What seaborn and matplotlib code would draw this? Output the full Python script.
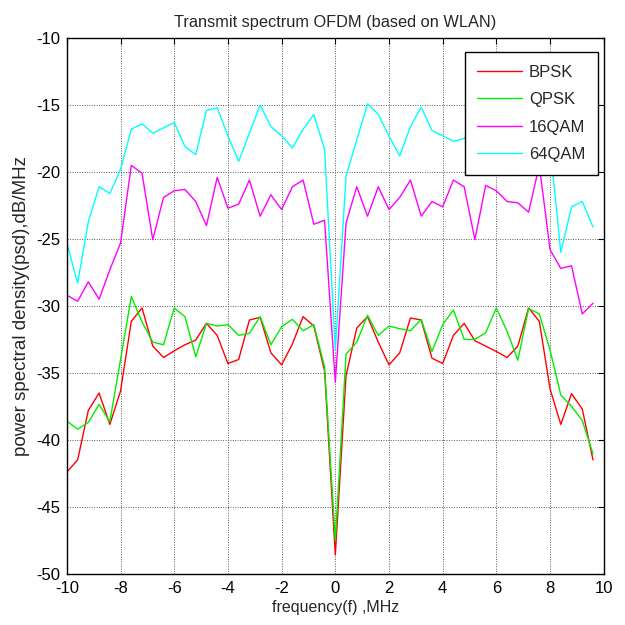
import pandas as pd
import matplotlib
matplotlib.use("Agg")
import matplotlib.pyplot as plt
import seaborn as sns

freq = [-10.0, -9.6, -9.2, -8.8, -8.4, -8.0, -7.6, -7.2, -6.8, -6.4,
        -6.0, -5.6, -5.2, -4.8, -4.4, -4.0, -3.6, -3.2, -2.8, -2.4,
        -2.0, -1.6, -1.2, -0.8, -0.4, 0.0, 0.4, 0.8, 1.2, 1.6,
        2.0, 2.4, 2.8, 3.2, 3.6, 4.0, 4.4, 4.8, 5.2, 5.6,
        6.0, 6.4, 6.8, 7.2, 7.6, 8.0, 8.4, 8.8, 9.2, 9.6]

bpsk = [-42.4, -41.5, -37.8, -36.5, -38.85, -36.35, -31.15, -30.15, -33.0, -33.85,
        -33.35, -32.9, -32.55, -31.3, -32.2, -34.3, -34.0, -31.05, -30.85, -33.5,
        -34.4, -32.85, -30.8, -31.5, -34.85, -48.6, -35.2, -31.65, -30.8, -32.7,
        -34.4, -33.5, -30.9, -31.05, -33.9, -34.3, -32.2, -31.3, -32.6, -33.0,
        -33.4, -33.85, -33.0, -30.15, -31.15, -36.2, -38.85, -36.55, -37.7, -41.5]

qpsk = [-38.6, -39.2, -38.7, -37.35, -38.65, -34.0, -29.3, -31.2, -32.7, -32.9,
        -30.15, -30.8, -33.8, -31.3, -31.5, -31.4, -32.2, -32.05, -30.8, -32.9,
        -31.55, -31.0, -31.85, -31.4, -34.55, -47.5, -33.6, -32.7, -30.7, -32.2,
        -31.5, -31.7, -31.85, -31.0, -33.4, -31.4, -30.3, -32.5, -32.5, -32.0,
        -30.15, -31.9, -34.05, -30.2, -30.6, -33.3, -36.65, -37.5, -38.55, -41.05]

qam16 = [-29.2, -29.65, -28.2, -29.5, -27.3, -25.3, -19.5, -20.1, -25.05, -21.9,
         -21.4, -21.3, -22.2, -24.0, -20.4, -22.7, -22.4, -20.6, -23.3, -21.7,
         -22.8, -21.1, -20.6, -23.9, -23.6, -35.7, -23.8, -21.1, -23.3, -21.1,
         -22.8, -21.9, -20.6, -23.3, -22.2, -22.6, -20.6, -21.1, -25.05, -21.0,
         -21.4, -22.2, -22.3, -23.0, -19.5, -25.8, -27.2, -27.0, -30.6, -29.8]

qam64 = [-25.3, -28.3, -23.7, -21.1, -21.6, -19.8, -16.8, -16.4, -17.1, -16.7,
         -16.3, -18.1, -18.7, -15.4, -15.2, -17.3, -19.2, -17.1, -15.0, -16.6,
         -17.3, -18.2, -16.8, -15.7, -18.3, -33.3, -20.3, -17.6, -14.9, -15.7,
         -17.3, -18.8, -16.6, -15.15, -16.9, -17.3, -17.7, -17.5, -16.6, -17.0,
         -15.6, -17.2, -16.4, -15.8, -17.4, -18.0, -26.0, -22.6, -22.2, -24.1]

names = ["BPSK", "QPSK", "16QAM", "64QAM"]
colors = ["#ff0000", "#00ee00", "#ff00ff", "#00ffff"]

df = pd.concat([
    pd.DataFrame({"freq": freq, "psd": vals, "scheme": name})
    for name, vals in zip(names, [bpsk, qpsk, qam16, qam64])
])

sns.set_style("white")
plt.rcParams["font.family"] = ["Liberation Sans", "DejaVu Sans"]
plt.rcParams["axes.unicode_minus"] = False

fig = plt.figure(figsize=(6.25, 6.25), dpi=100)
ax = fig.add_axes([0.107, 0.082, 0.859, 0.857])

sns.lineplot(
    data=df, x="freq", y="psd", hue="scheme",
    hue_order=names, palette=dict(zip(names, colors)),
    estimator=None, sort=False, linewidth=1.0, legend=False, ax=ax
)

ax.set_xlim(-10, 10)
ax.set_ylim(-50, -10)
ax.set_xticks(range(-10, 11, 2))
ax.set_yticks(range(-50, -9, 5))
ax.grid(True, color="0.35", linestyle=(0, (1, 1.5)), linewidth=0.7)
ax.tick_params(direction="in", length=4, width=0.8, top=True, right=True,
               labelsize=12, colors="black", pad=5)
for s in ax.spines.values():
    s.set_color("black")
    s.set_linewidth(1.0)

ax.set_title("Transmit spectrum OFDM (based on WLAN)", fontsize=11.8, pad=8)
ax.set_xlabel("frequency(f) ,MHz", fontsize=11.5, labelpad=3)
ax.set_ylabel("power spectral density(psd),dB/MHz", fontsize=13.5, labelpad=4)

leg = ax.legend(ax.lines[:4], names, loc="upper right",
                bbox_to_anchor=(0.989, 0.974), fontsize=12,
                frameon=True, fancybox=False, framealpha=1,
                handlelength=2.7, borderpad=0.75, labelspacing=0.75,
                handletextpad=0.4, borderaxespad=0)
leg.get_frame().set_edgecolor("black")
leg.get_frame().set_linewidth(1.0)

fig.savefig("out.png", dpi=100)
